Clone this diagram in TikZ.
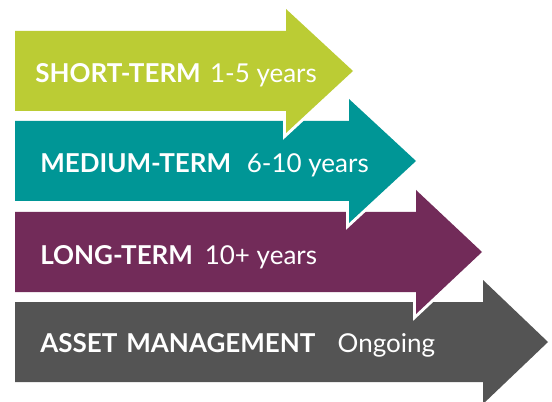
\documentclass[tikz,border=0pt]{standalone}
\usepackage{fontspec}
\setmainfont{Lato}
\definecolor{shortgreen}{RGB}{187,204,52}
\definecolor{mediumteal}{RGB}{0,150,150}
\definecolor{longpurple}{RGB}{114,43,89}
\definecolor{assetgray}{RGB}{84,84,84}
\tikzset{
  termarrow/.style={fill=#1, preaction={draw=white, line width=4.5}},
  termlabel/.style={anchor=base west, inner sep=0pt, text=white, font=\fontsize{19.5}{22}\selectfont},
}
\begin{document}
\begin{tikzpicture}[x=0.75pt, y=-0.75pt]
      \useasboundingbox (0,0) rectangle (552,402);
      \clip (0,0) rectangle (552,402);
      \pgfmathsetmacro{\L}{15}
      \pgfmathsetmacro{\H}{80}
      \pgfmathsetmacro{\W}{62}
      % bottom arrow first, so each one above overlaps it
      \fill[termarrow=assetgray] (\L,302) -- (483,302) -- (483,342-\W) -- (548,342) -- (483,342+\W) -- (483,302+\H) -- (\L,302+\H) -- cycle;
      \fill[termarrow=longpurple] (\L,212) -- (416,212) -- (416,252-\W) -- (482,252) -- (416,252+\W) -- (416,212+\H) -- (\L,212+\H) -- cycle;
      \fill[termarrow=mediumteal] (\L,121) -- (349,121) -- (349,161-\W) -- (416,161) -- (349,161+\W) -- (349,121+\H) -- (\L,121+\H) -- cycle;
      \fill[termarrow=shortgreen] (\L,31) -- (286,31) -- (286,71-\W) -- (353,71) -- (286,71+\W) -- (286,31+\H) -- (\L,31+\H) -- cycle;
      \node[termlabel] (short) at (35,82.5) {\textbf{SHORT-TERM}\hspace{0.1em} 1-5 years};
      \node[termlabel] (medium) at (40,172.5) {\textbf{MEDIUM-TERM}\hspace{0.35em} 6-10 years};
      \node[termlabel] (long) at (40,264) {\textbf{LONG-TERM}\hspace{0.2em} 10+ years};
      \node[termlabel] (asset) at (40,352.5) {\textbf{ASSET\hspace{0.1em} MANAGEMENT}\hspace{0.6em} Ongoing};
    \end{tikzpicture}
\end{document}
